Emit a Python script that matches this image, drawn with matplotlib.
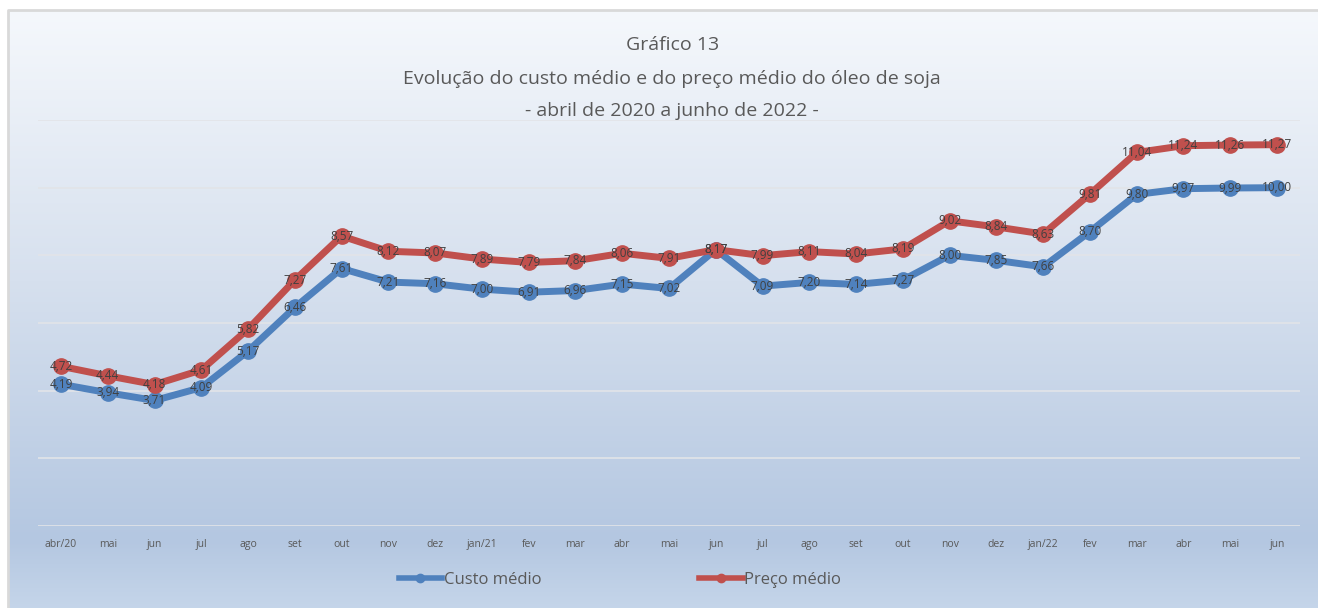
import matplotlib.pyplot as plt
import numpy as np
from matplotlib.colors import LinearSegmentedColormap

plt.rcParams['font.family'] = ['Open Sans', 'DejaVu Sans']

meses = ["abr/20", "mai", "jun", "jul", "ago", "set", "out", "nov", "dez",
         "jan/21", "fev", "mar", "abr", "mai", "jun", "jul", "ago", "set",
         "out", "nov", "dez", "jan/22", "fev", "mar", "abr", "mai", "jun"]
custo = [4.19, 3.94, 3.71, 4.09, 5.17, 6.46, 7.61, 7.21, 7.16, 7.00, 6.91,
         6.96, 7.15, 7.02, 8.17, 7.09, 7.20, 7.14, 7.27, 8.00, 7.85, 7.66,
         8.70, 9.80, 9.97, 9.99, 10.00]
preco = [4.72, 4.44, 4.18, 4.61, 5.82, 7.27, 8.57, 8.12, 8.07, 7.89, 7.79,
         7.84, 8.06, 7.91, 8.17, 7.99, 8.11, 8.04, 8.19, 9.02, 8.84, 8.63,
         9.81, 11.04, 11.24, 11.26, 11.27]

W, H = 1318, 608
fig = plt.figure(figsize=(W / 100, H / 100), dpi=100)

# background gradient box
bg = fig.add_axes([0, 0, 1, 1])
bg.set_xlim(0, W)
bg.set_ylim(H, 0)
bg.axis('off')
cmap = LinearSegmentedColormap.from_list(
    'g', [(0, '#f5f8fc'), (0.45, '#d6e0ee'), (0.88, '#b4c7e1'), (1, '#c6d6ea')])
grad = np.linspace(0, 1, 256).reshape(-1, 1)
bg.imshow(grad, cmap=cmap, extent=[8, W + 5, H + 5, 10], aspect='auto')
bg.plot([8, 8, W + 5], [H + 5, 10, 10], color='#d9d9d9', lw=2)

ax = fig.add_axes([37.6 / W, 82 / H, 1262.8 / W, 406 / H])
ax.patch.set_alpha(0)
x = np.arange(len(meses))
ax.set_xlim(-0.5, len(meses) - 0.5)
ax.set_ylim(0, 12)
ax.set_yticks(np.arange(0, 13, 2))
ax.yaxis.grid(True, color='#e2e4e8', lw=1.2)
ax.set_axisbelow(True)
for s in ax.spines.values():
    s.set_visible(False)
ax.tick_params(left=False, labelleft=False, bottom=False)
ax.set_xticks(x)
ax.set_xticklabels(meses, fontsize=7.5, color='#595959')
ax.tick_params(axis='x', pad=6)

ax.plot(x, custo, color='#4f81bd', lw=5, marker='o', ms=11,
        label='Custo médio', zorder=3)
ax.plot(x, preco, color='#c0504d', lw=5, marker='o', ms=11,
        label='Preço médio', zorder=4)

for xi, v in zip(x, custo):
    ax.text(xi, v, f"{v:.2f}".replace('.', ','), ha='center', va='center',
            fontsize=8.5, color='#404040', zorder=5)
for xi, v in zip(x, preco):
    ax.text(xi, v, f"{v:.2f}".replace('.', ','), ha='center', va='center',
            fontsize=8.5, color='#404040', zorder=5)

for yy, t in [(45, "Gráfico 13"),
              (79, "Evolução do custo médio e do preço médio do óleo de soja"),
              (111, "- abril de 2020 a junho de 2022 -")]:
    fig.text(0.51, 1 - yy / H, t, ha='center', va='center',
             fontsize=14, color='#595959')

leg = fig.legend(*ax.get_legend_handles_labels(), loc='center',
                 bbox_to_anchor=(620 / W, 1 - 580 / H), ncol=2, frameon=False,
                 fontsize=12, labelcolor='#595959', handlelength=2.6,
                 handletextpad=0.1, columnspacing=9.5)
for h in leg.legend_handles:
    h.set_markersize(6)
    h.set_linewidth(4)

fig.savefig('out.png', dpi=100)
